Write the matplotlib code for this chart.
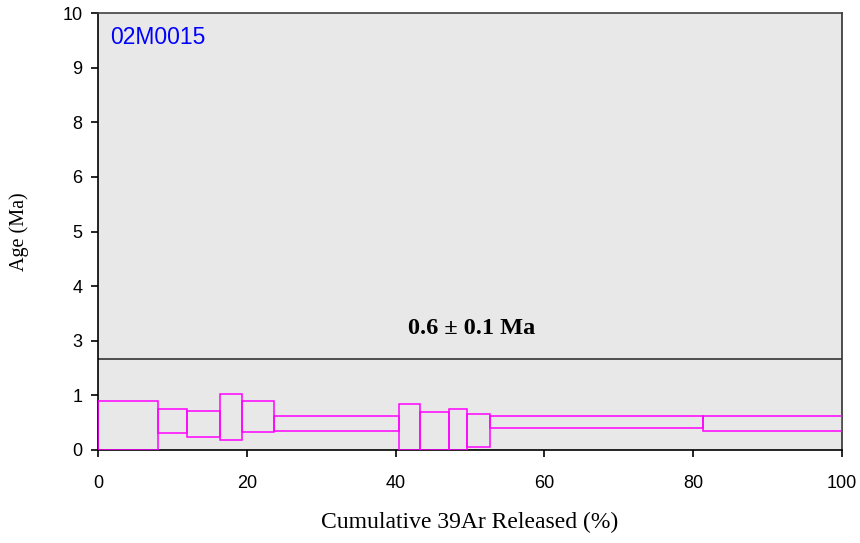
import matplotlib
matplotlib.use("Agg")
import matplotlib.pyplot as plt
from matplotlib.patches import Rectangle

# step edges (cumulative 39Ar %) and age error envelopes (Ma)
x_edges = [0, 8.0, 11.9, 16.45, 19.3, 23.65, 40.4, 43.3, 47.2, 49.6, 52.7, 81.3, 100]
age_hi = [1.12, 0.945, 0.885, 1.29, 1.12, 0.77, 1.045, 0.86, 0.94, 0.82, 0.77, 0.77]
age_lo = [0.0, 0.38, 0.29, 0.23, 0.405, 0.44, 0.0, 0.0, 0.0, 0.07, 0.50, 0.44]
plateau_y = 2.08

y_ticks = [0, 1.25, 2.5, 3.75, 5, 6.25, 7.5, 8.75, 10]
y_labels = ["0", "1", "3", "4", "5", "6", "8", "9", "10"]
x_ticks = [0, 20, 40, 60, 80, 100]

serif = "Liberation Serif"
sans = "Liberation Sans"

fig = plt.figure(figsize=(8.6, 5.43), dpi=100)
ax = fig.add_axes([98 / 860, 93 / 543, 744 / 860, 437 / 543])
ax.set_facecolor("#e8e8e8")

for i in range(len(age_hi)):
    x0, x1 = x_edges[i], x_edges[i + 1]
    ax.add_patch(Rectangle((x0, age_lo[i]), x1 - x0, age_hi[i] - age_lo[i],
                           fill=False, edgecolor="#ff00ff", linewidth=1.1, zorder=3))

ax.axhline(plateau_y, color="#404040", linewidth=1.3, zorder=2)
ax.text(50.2, 2.79, "0.6 \u00b1 0.1 Ma", ha="center", va="center",
        fontsize=17.5, fontweight="bold", family=serif)
ax.text(1.6, 9.43, "02M0015", color="#0000ff", fontsize=16.5, family=sans,
        ha="left", va="center")

ax.set_xlim(0, 100)
ax.set_ylim(0, 10)
ax.set_xticks(x_ticks)
ax.set_xticklabels([str(v) for v in x_ticks])
ax.set_yticks(y_ticks)
ax.set_yticklabels(y_labels)
for lab in ax.get_xticklabels() + ax.get_yticklabels():
    lab.set_family(sans)
    lab.set_fontsize(13)
ax.tick_params(direction="out", length=5, width=1.2, pad=6)
ax.tick_params(axis="x", pad=13)
for s in ax.spines.values():
    s.set_linewidth(1.2)
ax.spines["top"].set_color("#404040")
ax.spines["right"].set_color("#303030")

ax.set_xlabel("Cumulative 39Ar Released (%)", family=serif, fontsize=17, labelpad=14)
ax.set_ylabel("Age (Ma)", family=serif, fontsize=14.5, labelpad=24)

fig.savefig("out.png", dpi=100)
